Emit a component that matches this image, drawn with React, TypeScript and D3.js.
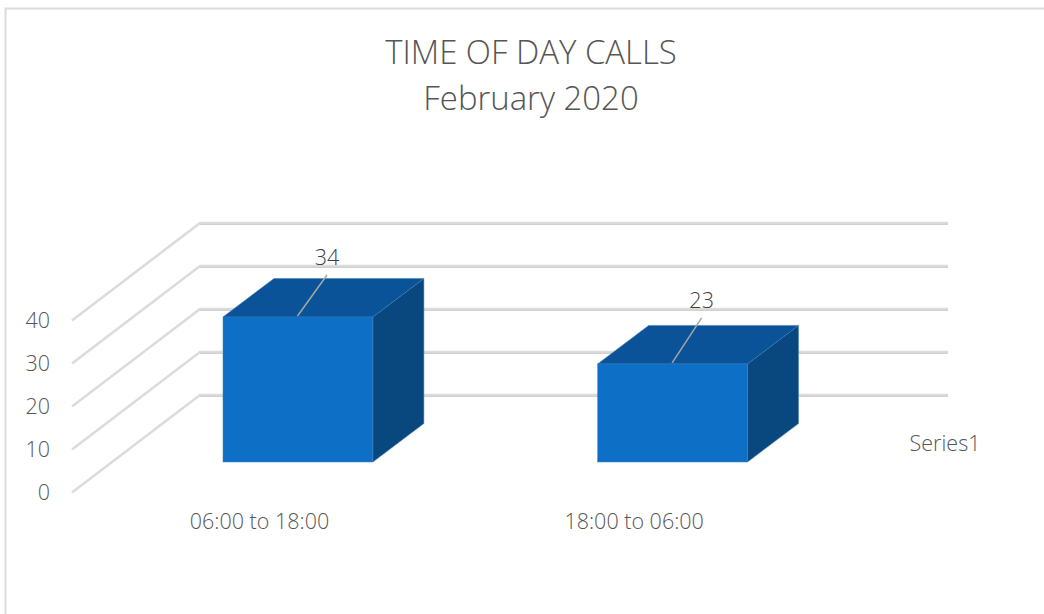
import React from "react";
import * as d3 from "d3";

const categories = ["06:00 to 18:00", "18:00 to 06:00"];
const values = [34, 23];
const yTicks = [0, 10, 20, 30, 40];
const titleLines = ["TIME OF DAY CALLS", "February 2020"];
const seriesName = "Series1";

const FONT = "'Open Sans', 'Noto Sans', sans-serif";
const TEXT = "#555555";
const GRID = "#dcdcdc";

export default function App() {
  const y = d3.scaleLinear().domain([0, 40]).range([395, 223]);
  const barH = d3.scaleLinear().domain([0, 40]).range([0, 170.6]);
  const x = d3.scaleBand<string>().domain(categories).range([223, 747.5]).paddingInner(0.6).paddingOuter(0);
  const floorFront = 462;
  const depth = { dx: 51, dy: -38.5 };
  const wallOffset = { dx: -128, dy: 97.5 };
  const leaderLift = [42, 46];
  const labelLift = [17.5, 17];
  const poly = (pts: [number, number][]) => d3.line()(pts) + "Z";

  return (
    <svg width={1044} height={614} style={{ position: "absolute", left: 0, top: 0, background: "#fff" }} fontFamily={FONT}>
      <path d="M5.5 614V8.5H1044" fill="none" stroke="#dcdcdc" strokeWidth={2} />

      {titleLines.map((t, i) => (
        <text key={t} x={531} y={64 + i * 45.5} textAnchor="middle" fontSize={32.9} fontWeight={300} fill={TEXT}>{t}</text>
      ))}

      {yTicks.map((t) => {
        const yy = y(t);
        return (
          <g key={t}>
            <path d={`M${200 + wallOffset.dx} ${yy + wallOffset.dy}L200 ${yy}H948`} fill="none" stroke={GRID} strokeWidth={2.6} />
            <path d={`M200 ${yy + 1.3}H948`} fill="none" stroke="#c8c8c8" strokeWidth={1} />
            <text x={50} y={yy + wallOffset.dy - 0.5} dy="0.35em" textAnchor="end" fontSize={21.5} fontWeight={300} fill={TEXT}>{t}</text>
          </g>
        );
      })}

      {categories.map((c, i) => {
        const x0 = x(c) as number;
        const x1 = x0 + x.bandwidth();
        const h = barH(values[i]);
        const top = floorFront - h;
        const { dx, dy } = depth;
        const edge = "#3f7fb5";
        const lx = x0 + 75;
        const lift = leaderLift[i];
        return (
          <g key={c}>
            <path d={poly([[x1, top], [x1 + dx, top + dy], [x1 + dx, floorFront + dy], [x1, floorFront]])} fill="#09477f" stroke={edge} strokeWidth={0.5} />
            <path d={poly([[x0, top], [x0 + dx, top + dy], [x1 + dx, top + dy], [x1, top]])} fill="#0a5398" stroke={edge} strokeWidth={0.5} />
            <rect x={x0} y={top} width={x1 - x0} height={h} fill="#0e6fc6" stroke={edge} strokeWidth={0.5} />
            <line x1={lx - 0.5} y1={top - 1} x2={lx + 29} y2={top - lift} stroke="#a6a6a6" strokeWidth={1.5} />
            <text x={lx + 29} y={top - lift - labelLift[i]} dy="0.35em" textAnchor="middle" fontSize={21.5} fontWeight={300} fill="#404040">{values[i]}</text>
            <text x={x0 + 36.5} y={521} dy="0.35em" textAnchor="middle" fontSize={21.5} fontWeight={300} fill={TEXT}>{c}</text>
          </g>
        );
      })}

      <text x={945} y={443} dy="0.35em" textAnchor="middle" fontSize={21.5} fontWeight={300} fill={TEXT}>{seriesName}</text>
    </svg>
  );
}
